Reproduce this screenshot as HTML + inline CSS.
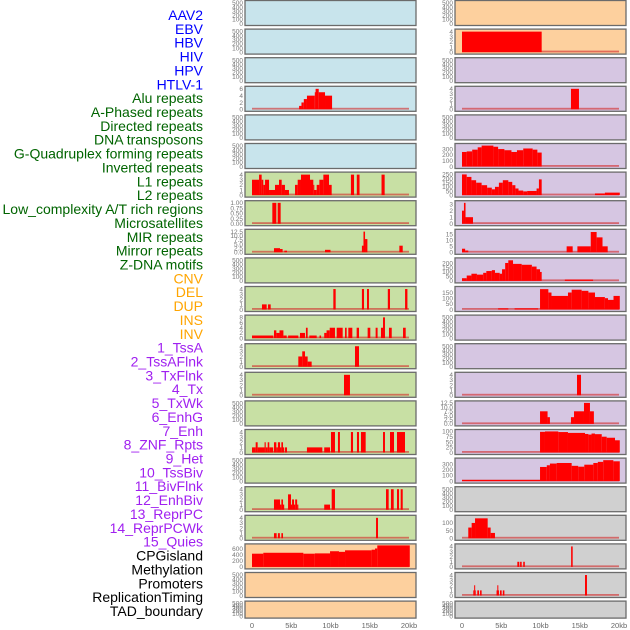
<!DOCTYPE html>
<html><head><meta charset="utf-8">
<style>
html,body{margin:0;padding:0;background:#fff;}
svg{display:block;font-family:"Liberation Sans",sans-serif;}
</style></head>
<body>
<svg id="chart" width="630" height="630" viewBox="0 0 630 630" xmlns="http://www.w3.org/2000/svg"></svg>
<script>
// ---- Track labels ----
const trackLabels = ["AAV2","EBV","HBV","HIV","HPV","HTLV-1","Alu repeats","A-Phased repeats","Directed repeats","DNA transposons","G-Quadruplex forming repeats","Inverted repeats","L1 repeats","L2 repeats","Low_complexity A/T rich regions","Microsatellites","MIR repeats","Mirror repeats","Z-DNA motifs","CNV","DEL","DUP","INS","INV","1_TssA","2_TssAFlnk","3_TxFlnk","4_Tx","5_TxWk","6_EnhG","7_Enh","8_ZNF_Rpts","9_Het","10_TssBiv","11_BivFlnk","12_EnhBiv","13_ReprPC","14_ReprPCWk","15_Quies","CPGisland","Methylation","Promoters","ReplicationTiming","TAD_boundary"];
const labelColors = ["#0000ff","#0000ff","#0000ff","#0000ff","#0000ff","#0000ff","#006400","#006400","#006400","#006400","#006400","#006400","#006400","#006400","#006400","#006400","#006400","#006400","#006400","#ffa500","#ffa500","#ffa500","#ffa500","#ffa500","#a020f0","#a020f0","#a020f0","#a020f0","#a020f0","#a020f0","#a020f0","#a020f0","#a020f0","#a020f0","#a020f0","#a020f0","#a020f0","#a020f0","#a020f0","#000000","#000000","#000000","#000000","#000000"];
const panelBg = ["#c8e4ec","#c8e4ec","#c8e4ec","#c8e4ec","#c8e4ec","#c8e4ec","#c8e0a4","#c8e0a4","#c8e0a4","#c8e0a4","#c8e0a4","#c8e0a4","#c8e0a4","#c8e0a4","#c8e0a4","#c8e0a4","#c8e0a4","#c8e0a4","#c8e0a4","#fdd09e","#fdd09e","#fdd09e","#fdd09e","#fdd09e","#d6c6e2","#d6c6e2","#d6c6e2","#d6c6e2","#d6c6e2","#d6c6e2","#d6c6e2","#d6c6e2","#d6c6e2","#d6c6e2","#d6c6e2","#d6c6e2","#d6c6e2","#d6c6e2","#d6c6e2","#d0d0d0","#d0d0d0","#d0d0d0","#d0d0d0","#d0d0d0"];
// ---- y scale per track ----
const yMax = [520,520,520,6.3,520,520,4.2,1.03,13,520,4.2,8.3,4.2,4.2,520,4.2,520,4.2,4.2,700,520,520,
              520,4.2,520,4.2,520,370,260,3.3,18,240,190,520,520,4.2,12.8,102,380,520,140,4.2,4.2,520];
const emptyTicks = [0,100,200,300,400,500];
const t04 = [0,1,2,3,4];
const yTicks = [emptyTicks,emptyTicks,emptyTicks,[0,2,4,6],emptyTicks,emptyTicks,t04,[0,0.25,0.5,0.75,1],[0,2.5,5,7.5,10,12.5],emptyTicks,t04,[0,2,4,6,8],t04,t04,emptyTicks,t04,emptyTicks,t04,t04,[0,200,400,600],emptyTicks,emptyTicks,
  emptyTicks,t04,emptyTicks,t04,emptyTicks,[0,100,200,300],[0,50,100,150,200,250],[0,1,2,3],[0,5,10,15],[0,50,100,150,200],[0,50,100,150],emptyTicks,emptyTicks,t04,[0,2.5,5,7.5,10,12.5],[0,25,50,75,100],[0,100,200,300],emptyTicks,[0,50,100],t04,t04,emptyTicks];
const tickDecimals = {7:2, 8:1, 36:1};
// ---- series: [startKb, endKb, value] ----
const hivSegs = [[6.0,6.3,1],[6.3,6.6,2],[6.6,7.0,3],[7.0,8.0,4],[8.0,8.1,5],[8.1,8.5,6],[8.5,9.3,5],[9.3,10.2,4]];
const aluSegs = [[0,0.9,3],[0.9,1.23,4],[1.23,1.44,3],[1.44,1.66,2],[1.66,2.17,3],[2.17,2.93,1],[2.93,3.44,2],[3.44,3.78,3],[3.78,4.2,2],[4.2,4.71,1],[5.48,5.82,2],[5.82,6.24,3],[6.24,7.39,4],[7.39,7.81,3],[7.81,7.9,2],[7.9,8.24,1],[8.24,8.58,2],[8.58,9.09,3],[9.09,9.81,4],[9.81,10.15,2],[12.6,13.0,4],[13.35,13.7,4],[16.5,16.9,4]];
const aphasedSegs = [[2.59,3.1,1],[3.27,3.65,1]];
const directedSegs = [[2.8,3.57,2.5],[3.57,3.9,2],[4.12,4.46,1],[9.3,10.0,1.5],[14.0,14.2,4],[14.2,14.4,12.5],[14.4,14.7,8],[18.77,19.2,4]];
const gquadSegs = [[1.27,1.87,1],[2.04,2.38,1],[10.36,10.66,4],[14.0,14.27,4],[14.65,14.9,4],[17.3,17.58,4],[19.5,19.8,4]];
const invertedSegs = [[0,2.72,1],[2.8,3.1,3],[3.1,3.5,2],[3.5,4.0,3],[4.0,4.42,1],[4.6,5.9,1],[6.11,6.75,2],[6.87,7.09,4],[7.3,8.24,1],[8.6,8.8,1],[9.2,9.5,2],[9.5,9.9,3],[9.9,10.57,4],[10.79,11.55,4],[11.85,12.06,4],[12.27,12.78,4],[13.33,13.63,4],[14.73,15.07,4],[15.75,16.0,4],[16.43,16.69,4],[16.69,16.94,8],[17.45,17.8,4],[19.24,19.58,4]];
const l1Segs = [[5.9,6.4,2],[6.4,6.75,3],[6.75,7.09,2],[7.09,7.6,1],[13.12,13.63,4]];
const l2Segs = [[11.72,12.48,4]];
const microSegs = [[0,0.47,1],[0.47,0.72,2],[0.72,1.6,1],[1.6,1.75,2],[1.75,2.0,1],[2.0,2.2,2],[2.2,2.7,1],[2.8,3.1,2],[3.1,3.3,1],[3.3,3.57,2],[3.57,3.74,1],[3.74,3.95,2],[3.95,4.1,1],[4.2,4.46,1],[7.0,8.96,1],[9.2,9.94,1],[10.06,10.57,4],[10.95,11.2,4],[12.6,12.87,4],[13.37,13.63,4],[13.88,14.48,4],[16.69,16.94,4],[17.58,18.09,4],[18.47,19.49,4]];
const mirrorSegs = [[2.8,3.57,2],[3.57,3.74,1],[3.74,3.95,2],[3.95,4.1,1],[4.59,4.97,3],[4.97,5.1,1],[5.1,5.35,2],[5.35,5.5,1],[5.5,5.75,2],[5.75,5.9,1],[9.2,9.94,1],[10.15,10.57,4],[17.07,17.41,4],[17.7,18.05,4],[18.47,18.73,4],[18.94,19.2,4]];
const zdnaSegs = [[2.8,3.14,1],[3.3,3.55,1],[3.74,3.95,1],[15.8,16.05,4]];
const cnvSegs = [[0,1.44,430],[1.44,6.54,460],[6.54,8.0,430],[8.0,9.94,440],[9.94,11.08,510],[11.08,11.85,490],[11.85,15.24,540],[15.24,15.67,560],[15.67,15.96,600],[15.96,20.1,700]];
const invSegs = [[0,10.15,4]];
const tssaflnkSegs = [[13.88,14.9,4]];
const txwkSegs = [[0,0.6,250],[0.6,1.3,260],[1.3,2.0,290],[2.0,2.5,330],[2.5,4.0,360],[4.0,4.6,340],[4.6,5.4,300],[5.4,6.3,280],[6.3,7.0,250],[7.0,7.8,280],[7.8,9.0,310],[9.0,9.6,290],[9.6,10.15,240]];
const enhgSegs = [[0,0.6,250],[0.6,1.2,220],[1.2,1.8,180],[1.8,2.5,150],[2.5,3.2,120],[3.2,3.8,90],[3.8,4.2,70],[4.2,4.7,100],[4.7,5.2,150],[5.2,5.9,180],[5.9,6.4,160],[6.4,6.8,120],[6.8,7.2,80],[7.2,7.8,55],[7.8,8.3,45],[8.3,9.5,50],[9.5,9.8,80],[9.8,10.15,190],[16.94,18.2,20],[18.2,20.1,30]];
const enhSegs = [[0,0.25,2],[0.25,0.45,3.2],[0.45,1.4,1]];
const znfSegs = [[0,0.4,3],[0.4,0.8,1.5],[13.33,14.1,5],[14.7,16.4,5],[16.4,17.15,17],[17.15,17.9,12.5],[17.9,18.56,5]];
const hetSegs = [[0,0.6,30],[0.6,1.2,60],[1.2,1.9,80],[1.9,2.7,70],[2.7,3.1,90],[3.1,3.8,110],[3.8,4.2,120],[4.2,4.8,90],[4.8,5.1,80],[5.1,5.5,130],[5.5,5.9,200],[5.9,6.5,230],[6.5,7.6,190],[7.6,8.9,180],[8.9,9.5,160],[9.5,9.94,130],[9.94,10.15,100],[13.1,16.7,15]];
const tssbivSegs = [[4.6,5.9,10],[6.7,9.7,10],[9.94,11.0,180],[11.0,11.4,150],[11.4,13.5,120],[13.5,13.97,150],[13.97,15.24,175],[15.24,16.1,165],[16.1,16.94,150],[16.94,18.2,110],[18.2,18.6,100],[18.6,19.3,85],[19.3,20.1,120]];
const reprpcSegs = [[14.65,15.16,4]];
const reprpcwkSegs = [[9.94,10.9,7.5],[10.9,11.2,4],[13.88,14.27,4],[14.27,15.54,7.5],[15.54,16.3,12.5],[16.3,16.8,7.5]];
const quiesSegs = [[9.94,10.57,98],[10.57,12.27,100],[12.27,13.5,97],[13.5,15.67,93],[15.67,16.1,88],[16.1,16.5,85],[16.5,16.94,90],[16.94,17.8,87],[17.8,18.43,75],[18.43,19.49,70],[19.49,20.1,58]];
const cpgSegs = [[0,9.94,20],[9.94,10.8,250],[10.8,11.2,280],[11.2,12.06,310],[12.06,13.97,320],[13.97,14.8,270],[14.8,15.58,255],[15.58,16.73,290],[16.73,17.3,320],[17.3,17.99,340],[17.99,19.28,370],[19.28,20.1,350]];
const methylSegs = [[0.8,1.23,70],[1.23,1.66,100],[1.66,3.27,130],[3.27,3.65,70],[3.65,4.2,35]];
const promoterSegs = [[7.05,7.3,1],[7.4,7.6,1],[7.8,8.0,1],[13.9,14.1,4]];
const repliSegs = [[1.44,1.55,1],[1.55,1.62,2],[1.62,1.7,1],[1.95,2.17,1],[2.3,2.5,1],[4.4,4.5,1],[4.5,4.58,2],[4.58,4.68,1],[4.84,5.05,1],[5.2,5.4,1],[15.67,15.92,4]];
const seriesByTrack = {3:hivSegs,6:aluSegs,7:aphasedSegs,8:directedSegs,10:gquadSegs,11:invertedSegs,12:l1Segs,13:l2Segs,15:microSegs,17:mirrorSegs,18:zdnaSegs,19:cnvSegs,
  23:invSegs,25:tssaflnkSegs,27:txwkSegs,28:enhgSegs,29:enhSegs,30:znfSegs,31:hetSegs,32:tssbivSegs,35:reprpcSegs,36:reprpcwkSegs,37:quiesSegs,38:cpgSegs,40:methylSegs,41:promoterSegs,42:repliSegs};
const xTickKb = [0,5,10,15,20];
const xTickLabels = ["0","5kb","10kb","15kb","20kb"];

// ---- drawing ----
const NS = "http://www.w3.org/2000/svg";
const svg = document.getElementById("chart");
function mk(tag, attrs, parent){
  const e = document.createElementNS(NS, tag);
  for (const k in attrs) e.setAttribute(k, attrs[k]);
  (parent||svg).appendChild(e);
  return e;
}
// labels
trackLabels.forEach((t,i)=>{
  const el = mk("text",{x:203,y:15+i*13.86+5,"text-anchor":"end","font-size":"14",fill:labelColors[i]});
  el.textContent = t;
  
  
});
const colX = [245, 455];
const panelW = 171;
function xScale(col, kb){ return colX[col] + 7 + kb*7.85; }
for (let i=0;i<44;i++){
  const col = i<22?0:1, row = i%22;
  const top = row*28.6;
  const h = row===21 ? 17 : 25;
  const g = mk("g",{});
  
  
  mk("rect",{x:colX[col],y:top+0.5,width:panelW,height:h,fill:panelBg[i],stroke:"#6b6b6b","stroke-width":"1.3"},g);
  const pTop = top+2, pBot = top+h-1.5;
  const ys = v => pBot - (v/yMax[i])*(pBot-pTop);
  // y ticks
  const dec = tickDecimals[i]||0;
  yTicks[i].forEach(v=>{
    const tt = mk("text",{x:colX[col]-2,y:ys(v)+2.3,"text-anchor":"end","font-size":"6.5",fill:"#777"},g);
    tt.textContent = v.toFixed(dec);
    
    
  });
  const segs = seriesByTrack[i];
  if (segs){
    const base = mk("rect",{x:xScale(col,0),y:pBot-1.5,width:xScale(col,20)-xScale(col,0),height:1.8,fill:"rgba(210,40,40,0.6)"},g);
    
    
    segs.forEach(s=>{
      const x0 = xScale(col,s[0]), x1 = xScale(col,s[1]);
      const b = mk("rect",{x:x0,y:ys(s[2]),width:Math.max(1,x1-x0),height:pBot-ys(s[2]),fill:"#ff0000"},g);
      
      
    });
  }
}
// x axis ticks
[0,1].forEach(col=>{
  xTickKb.forEach((kb,j)=>{
    const t = mk("text",{x:xScale(col,kb),y:628,"text-anchor":"middle","font-size":"7.5",fill:"#666"});
    t.textContent = xTickLabels[j];
    
    
  });
});
</script>
</body></html>
